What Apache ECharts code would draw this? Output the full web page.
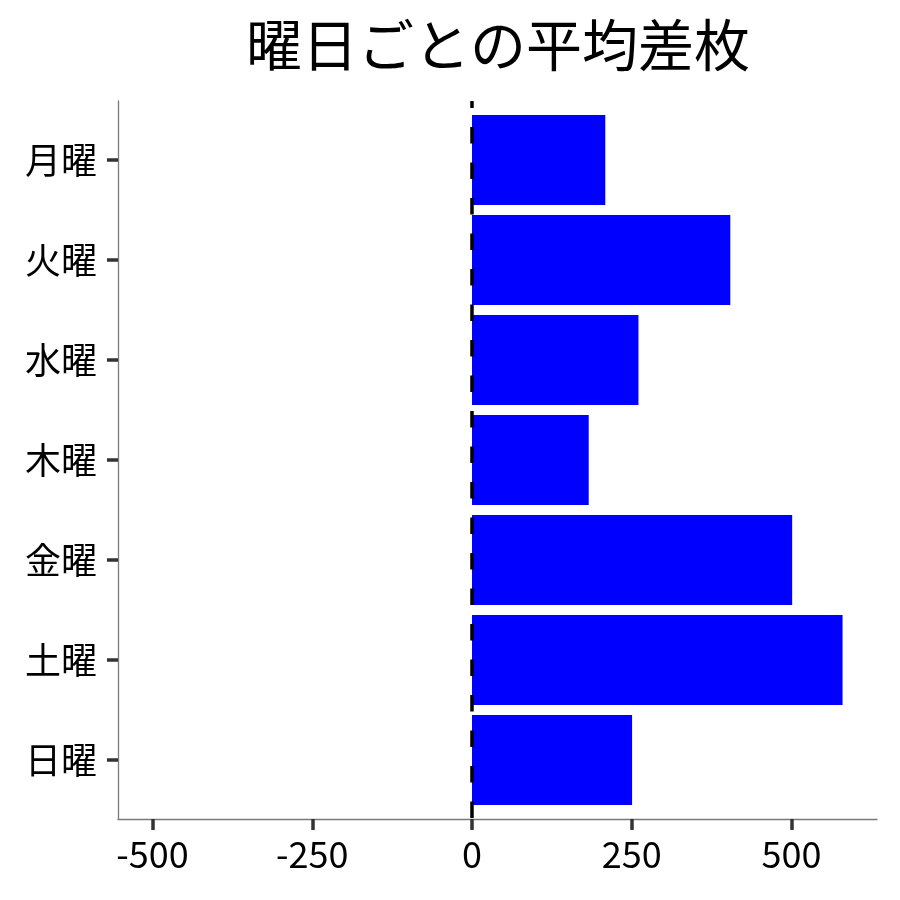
<!DOCTYPE html>
<html>
<head>
<meta charset="utf-8">
<script src="https://cdn.jsdelivr.net/npm/echarts@6/dist/echarts.min.js"></script>
<style>html,body{margin:0;padding:0;background:#fff;}#c{width:900px;height:900px;}</style>
</head>
<body>
<div id="c"></div>
<script>
const titleText = '曜日ごとの平均差枚';
const categories = ['月曜','火曜','水曜','木曜','金曜','土曜','日曜'];
const values = [209, 405, 261, 183, 502, 581, 251];
const xMin = -555, xMax = 635;
const tickMin = -500, tickMax = 500, tickStep = 250;
const zeroLine = [[0, 1], [0, 0]];

const FONT = 'Noto Sans CJK JP';
const chart = echarts.init(document.getElementById('c'));
const axisGray = '#7a7a7a';
const tickColor = '#333333';

chart.setOption({
  animation: false,
  backgroundColor: '#ffffff',
  title: {
    text: titleText,
    left: 493, textAlign: 'center', top: 12,
    textStyle: { fontFamily: FONT, fontSize: 56, fontWeight: 'normal', color: '#000' }
  },
  grid: [
    { left: 118, right: 23, top: 101, bottom: 81 },
    { left: 118, right: 23, top: 110, bottom: 90 },
    { left: 152.5, right: 108.5, top: 101, bottom: 81 }
  ],
  xAxis: [
    { gridIndex: 0, type: 'value', min: xMin, max: xMax, position: 'bottom',
      axisLine: { show: true, onZero: false, lineStyle: { color: axisGray, width: 1.3 } },
      axisTick: { show: false }, axisLabel: { show: false }, splitLine: { show: false } },
    { gridIndex: 1, type: 'value', min: xMin, max: xMax, show: false, splitLine: { show: false } },
    { gridIndex: 2, type: 'value', min: tickMin, max: tickMax, interval: tickStep, position: 'bottom',
      axisLine: { show: false, onZero: false },
      axisTick: { show: true, length: 11, lineStyle: { color: tickColor, width: 3.5 } },
      axisLabel: { show: true, margin: 17, fontFamily: FONT, fontSize: 36, color: '#000' },
      splitLine: { show: false } }
  ],
  yAxis: [
    { gridIndex: 0, type: 'value', min: 0, max: 1, position: 'left',
      axisLine: { show: true, onZero: false, lineStyle: { color: axisGray, width: 1.3 } },
      axisTick: { show: false }, axisLabel: { show: false }, splitLine: { show: false } },
    { gridIndex: 1, type: 'category', data: categories, inverse: true, position: 'left',
      axisLine: { show: false, onZero: false },
      axisTick: { show: true, alignWithLabel: true, length: 11, lineStyle: { color: tickColor, width: 3.5 } },
      axisLabel: { show: true, margin: 21, fontFamily: FONT, fontSize: 36, color: '#000' },
      splitLine: { show: false } },
    { gridIndex: 2, type: 'value', min: 0, max: 1, show: false, splitLine: { show: false } }
  ],
  series: [
    { type: 'bar', xAxisIndex: 1, yAxisIndex: 1, data: values,
      barCategoryGap: '10%', itemStyle: { color: '#0000ff' }, z: 2 },
    { type: 'line', xAxisIndex: 0, yAxisIndex: 0, data: zeroLine,
      symbol: 'none', silent: true, z: 10,
      lineStyle: { color: '#000', width: 3.5, type: [16.5, 19], dashOffset: 9.5, cap: 'butt' } }
  ]
});
</script>
</body>
</html>
